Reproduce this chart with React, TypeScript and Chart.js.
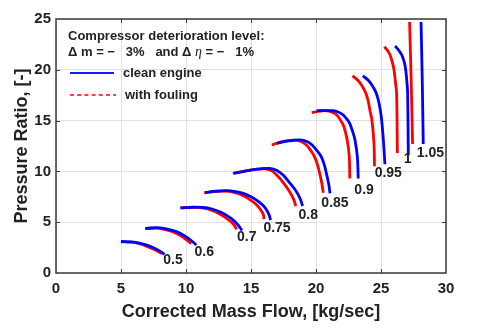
import React, { useEffect, useRef } from "react";
import { Chart, registerables } from "chart.js";
Chart.register(...registerables);

// ---------- data ----------
const speedLabels = ["0.5", "0.6", "0.7", "0.75", "0.8", "0.85", "0.9", "0.95", "1", "1.05"];
const labelX = [9.0, 11.4, 14.67, 17.0, 19.4, 21.46, 23.7, 25.56, 27.05, 28.8];
const labelY = [1.3, 2.05, 3.5, 4.4, 5.7, 6.9, 8.2, 9.87, 11.2, 11.84];

const xTicksMax = 30;
const yTicksMax = 25;

// clean engine speed lines [mass flow, pressure ratio]
const clean050 = [[5.0, 3.1], [5.8, 3.07], [6.5, 2.92], [7.2, 2.65], [7.8, 2.3], [8.35, 1.85]];
const clean060 = [[6.9, 4.4], [8.0, 4.45], [8.8, 4.25], [9.3, 4.05], [9.9, 3.65], [10.4, 3.2], [10.8, 2.75]];
const clean070 = [[9.6, 6.4], [10.5, 6.47], [11.3, 6.45], [12.0, 6.3], [12.6, 6.03], [13.1, 5.7], [13.5, 5.35], [14.0, 4.72], [14.3, 4.2]];
const clean075 = [[11.46, 7.9], [12.3, 8.05], [13.13, 8.1], [13.8, 8.02], [14.4, 7.84], [15.0, 7.5], [15.4, 7.2], [15.8, 6.8], [16.1, 6.4], [16.4, 5.7], [16.5, 5.2]];
const clean080 = [[13.7, 9.8], [14.9, 10.1], [15.7, 10.25], [16.4, 10.3], [17.0, 10.1], [17.5, 9.6], [17.9, 9.0], [18.4, 8.2], [18.77, 7.35], [18.97, 6.6]];
const clean085 = [[17.0, 12.77], [17.9, 13.0], [18.77, 13.1], [19.3, 12.95], [19.7, 12.6], [20.1, 12.0], [20.4, 11.45], [20.65, 10.6], [20.8, 9.8], [20.97, 8.8], [21.08, 7.84]];
const clean090 = [[20.05, 15.97], [21.3, 15.97], [21.7, 15.85], [22.1, 15.55], [22.4, 15.1], [22.6, 14.7], [22.85, 13.8], [23.0, 13.1], [23.18, 11.45], [23.25, 9.3]];
const clean095 = [[23.6, 19.4], [24.0, 19.0], [24.3, 18.5], [24.6, 17.8], [24.8, 17.0], [24.95, 16.0], [25.05, 15.06], [25.2, 12.77], [25.3, 10.7]];
const clean100 = [[26.08, 22.34], [26.35, 21.95], [26.6, 21.46], [26.8, 20.7], [26.9, 20.0], [27.0, 18.7], [27.05, 17.7], [27.1, 11.6]];
const clean105 = [[28.08, 24.7], [28.18, 18.5], [28.25, 12.7]];

// fouled engine speed lines
const foul050 = [[5.0, 3.08], [5.8, 3.03], [6.4, 2.88], [7.0, 2.62], [7.6, 2.28], [8.15, 1.9]];
const foul060 = [[6.85, 4.38], [7.9, 4.4], [8.6, 4.2], [9.1, 4.0], [9.6, 3.65], [10.05, 3.25], [10.4, 2.9]];
const foul070 = [[9.55, 6.4], [10.4, 6.45], [11.2, 6.42], [11.8, 6.27], [12.3, 6.0], [12.8, 5.65], [13.2, 5.3], [13.65, 4.8], [13.9, 4.3]];
const foul075 = [[11.4, 7.9], [12.2, 8.02], [13.0, 8.05], [13.6, 7.97], [14.1, 7.78], [14.6, 7.47], [15.0, 7.15], [15.4, 6.75], [15.7, 6.3], [15.95, 5.75], [16.0, 5.3]];
const foul080 = [[13.6, 9.8], [14.7, 10.08], [15.5, 10.22], [16.1, 10.25], [16.6, 10.05], [17.05, 9.55], [17.45, 8.95], [17.9, 8.15], [18.25, 7.35], [18.45, 6.6]];
const foul085 = [[16.6, 12.6], [17.5, 12.95], [18.4, 13.07], [18.9, 12.92], [19.3, 12.55], [19.65, 11.95], [19.9, 11.4], [20.15, 10.5], [20.3, 9.7], [20.45, 8.8], [20.56, 7.9]];
const foul090 = [[19.67, 15.78], [20.3, 15.93], [20.8, 15.97], [21.2, 15.85], [21.6, 15.55], [21.9, 15.0], [22.15, 14.4], [22.4, 13.1], [22.56, 11.45], [22.6, 9.3]];
const foul095 = [[22.8, 19.4], [23.2, 19.0], [23.5, 18.5], [23.8, 17.8], [24.0, 17.0], [24.15, 16.0], [24.3, 15.06], [24.46, 12.77], [24.5, 10.5]];
const foul100 = [[25.25, 22.27], [25.5, 21.9], [25.7, 21.46], [25.88, 20.7], [26.0, 20.0], [26.12, 18.7], [26.2, 17.7], [26.26, 11.8]];
const foul105 = [[27.2, 24.7], [27.33, 18.5], [27.43, 12.7]];

const cleanLines = [clean050, clean060, clean070, clean075, clean080, clean085, clean090, clean095, clean100, clean105];
const foulLines = [foul050, foul060, foul070, foul075, foul080, foul085, foul090, foul095, foul100, foul105];

const FONT = '"Liberation Sans", Arial, Helvetica, sans-serif';
const TEXT = "#222222";
const FRAME = "#3a3a3a";

const overlayPlugin = {
  id: "overlay",
  afterDatasetsDraw(chart: any) {
    const { ctx, chartArea: a, scales } = chart;
    const xs = scales.x;
    const ys = scales.y;
    ctx.save();

    // frame
    ctx.strokeStyle = FRAME;
    ctx.lineWidth = 1.5;
    ctx.strokeRect(a.left, a.top, a.right - a.left, a.bottom - a.top);

    // inward ticks on all sides
    ctx.lineWidth = 1;
    for (let v = 5; v < xTicksMax; v += 5) {
      const px = Math.round(xs.getPixelForValue(v)) + 0.5;
      ctx.beginPath();
      ctx.moveTo(px, a.bottom); ctx.lineTo(px, a.bottom - 4);
      ctx.moveTo(px, a.top); ctx.lineTo(px, a.top + 4);
      ctx.stroke();
    }
    for (let v = 5; v < yTicksMax; v += 5) {
      const py = Math.round(ys.getPixelForValue(v)) + 0.5;
      ctx.beginPath();
      ctx.moveTo(a.left, py); ctx.lineTo(a.left + 4, py);
      ctx.moveTo(a.right, py); ctx.lineTo(a.right - 4, py);
      ctx.stroke();
    }

    // speed labels
    ctx.fillStyle = TEXT;
    ctx.font = `bold 14px ${FONT}`;
    ctx.textAlign = "center";
    ctx.textBaseline = "middle";
    speedLabels.forEach((t, i) => {
      ctx.fillText(t, xs.getPixelForValue(labelX[i]), ys.getPixelForValue(labelY[i]));
    });

    // legend / annotation block
    const lx = a.left + 12;
    ctx.textAlign = "left";
    ctx.font = `bold 13px ${FONT}`;
    ctx.fillText("Compressor deterioration level:", lx, a.top + 17);
    // second line with italic eta
    let cx = lx;
    const y2 = a.top + 33;
    const part1 = "\u0394 m = \u2212   3%   and \u0394 ";
    ctx.fillText(part1, cx, y2);
    cx += ctx.measureText(part1).width;
    ctx.font = `italic 14px "Liberation Serif", "Times New Roman", serif`;
    ctx.fillText("\u03B7", cx, y2);
    cx += ctx.measureText("\u03B7").width;
    ctx.font = `bold 13px ${FONT}`;
    ctx.fillText(" = \u2212   1%", cx, y2);

    // clean engine
    ctx.strokeStyle = "#1a1aff";
    ctx.lineWidth = 2;
    ctx.beginPath();
    ctx.moveTo(a.left + 14, a.top + 54);
    ctx.lineTo(a.left + 58, a.top + 54);
    ctx.stroke();
    ctx.fillText("clean engine", a.left + 67, a.top + 54);

    // with fouling
    ctx.strokeStyle = "#ff4040";
    ctx.setLineDash([4, 3.2]);
    ctx.beginPath();
    ctx.moveTo(a.left + 14, a.top + 76);
    ctx.lineTo(a.left + 60, a.top + 76);
    ctx.stroke();
    ctx.setLineDash([]);
    ctx.fillText("with fouling", a.left + 69, a.top + 76);

    ctx.restore();
  },
};

export default function App() {
  const ref = useRef<HTMLCanvasElement | null>(null);

  useEffect(() => {
    if (!ref.current) return;
    const datasets: any[] = [];
    foulLines.forEach((pts, i) => {
      datasets.push({
        label: "with fouling " + speedLabels[i],
        data: pts.map(([x, y]) => ({ x, y })),
        borderColor: "#ff0000",
        borderWidth: 2.8,
        showLine: true,
        pointRadius: 0,
        tension: 0.35,
        fill: false,
        order: 2,
      });
    });
    cleanLines.forEach((pts, i) => {
      datasets.push({
        label: "clean engine " + speedLabels[i],
        data: pts.map(([x, y]) => ({ x, y })),
        borderColor: "#0000ff",
        borderWidth: 2.8,
        showLine: true,
        pointRadius: 0,
        tension: 0.35,
        fill: false,
        order: 1,
      });
    });

    const chart = new Chart(ref.current, {
      type: "scatter",
      data: { datasets },
      options: {
        animation: false,
        responsive: false,
        maintainAspectRatio: false,
        layout: { padding: { left: 0, top: 19, right: 34, bottom: 0 } },
        plugins: { legend: { display: false }, tooltip: { enabled: false } },
        scales: {
          x: {
            type: "linear",
            min: 0,
            max: xTicksMax,
            ticks: { stepSize: 5, color: TEXT, font: { family: FONT, size: 15, weight: "bold" }, padding: 7 },
            grid: { color: "#e2e2e2", lineWidth: 1, drawTicks: false },
            border: { display: false },
            title: {
              display: true,
              text: "Corrected Mass Flow, [kg/sec]",
              color: TEXT,
              font: { family: FONT, size: 18, weight: "bold" },
              padding: { top: 0, bottom: 9 },
            },
            afterFit: (s: any) => { s.height = 59; },
          },
          y: {
            type: "linear",
            min: 0,
            max: yTicksMax,
            ticks: { stepSize: 5, color: TEXT, font: { family: FONT, size: 15, weight: "bold" }, padding: 5 },
            grid: { color: "#e2e2e2", lineWidth: 1, drawTicks: false },
            border: { display: false },
            title: {
              display: true,
              text: "Pressure Ratio, [-]",
              color: TEXT,
              font: { family: FONT, size: 18, weight: "bold" },
              padding: { top: 11, bottom: 0 },
            },
            afterFit: (s: any) => { s.width = 56; },
          },
        },
      },
      plugins: [overlayPlugin],
    });
    return () => chart.destroy();
  }, []);

  return (
    <div style={{ position: "absolute", left: 0, top: 0, width: 480, height: 332, background: "#fff" }}>
      <canvas ref={ref} width={480} height={332} style={{ display: "block" }} />
    </div>
  );
}
